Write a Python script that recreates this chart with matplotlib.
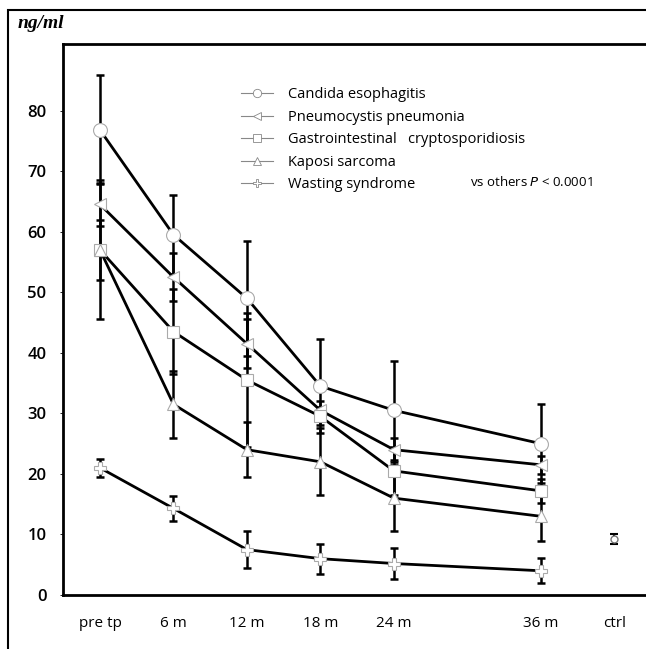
import matplotlib
matplotlib.use("Agg")
import matplotlib.pyplot as plt
from matplotlib.lines import Line2D
from matplotlib.patches import Rectangle

# time points (months); pre tp = 0, ctrl drawn at 42
months = [0, 6, 12, 18, 24, 36]
tick_pos = [0, 6, 12, 18, 24, 36, 42]
tick_labels = ["pre tp", "6 m", "12 m", "18 m", "24 m", "36 m", "ctrl"]

candida = [76.8, 59.5, 49.0, 34.5, 30.5, 25.0]
candida_err = [9.0, 6.5, 9.5, 7.7, 8.2, 6.5]

pneumo = [64.5, 52.5, 41.5, 30.5, 24.0, 21.5]
pneumo_err = [3.5, 4.0, 4.0, 1.5, 2.0, 1.5]

gastro = [57.0, 43.5, 35.5, 29.5, 20.5, 17.2]
gastro_err = [11.5, 7.0, 11.0, 1.5, 4.0, 2.0]

kaposi = [57.0, 31.5, 24.0, 22.0, 16.0, 13.0]
kaposi_err = [5.0, 5.5, 4.5, 5.5, 5.5, 4.0]

wasting = [21.0, 14.3, 7.5, 6.0, 5.2, 4.0]
wasting_err = [1.5, 2.0, 3.0, 2.5, 2.5, 2.1]

ctrl_x = 42
ctrl_val = 9.3
ctrl_err = 0.8

series = [
    ("Candida esophagitis", candida, candida_err, "o", 10),
    ("Pneumocystis pneumonia", pneumo, pneumo_err, "<", 8),
    ("Gastrointestinal   cryptosporidiosis", gastro, gastro_err, "s", 9),
    ("Kaposi sarcoma", kaposi, kaposi_err, "^", 8),
    ("Wasting syndrome", wasting, wasting_err, "P", 8),
]

plt.rcParams['font.family'] = ['Open Sans', 'DejaVu Sans']

fig = plt.figure(figsize=(6.46, 6.49), dpi=100)
ax = fig.add_axes([63 / 646, 1 - 595 / 649, 0.95, 551 / 649])

for name, vals, errs, mk, ms in series:
    ax.errorbar(months, vals, yerr=errs, fmt="none", ecolor="black",
                elinewidth=1.8, capsize=3, capthick=1.8, zorder=2)
    ax.plot(months, vals, color="black", lw=2, zorder=3)
    ax.plot(months, vals, ls="none", marker=mk, ms=ms, mfc="white",
            mec="#aaaaaa", mew=0.8, zorder=4)

ax.errorbar([ctrl_x], [ctrl_val], yerr=[ctrl_err], fmt="o", ms=5,
            mfc="white", mec="#777777", ecolor="black", elinewidth=1.5,
            capsize=3, capthick=1.5, zorder=4)

ax.set_xlim(-3.02, 47.1)
ax.set_ylim(0, 91)
ax.set_yticks(range(0, 81, 10))
ax.set_xticks(tick_pos)
ax.set_xticklabels(tick_labels, fontweight="medium")
ax.set_yticklabels([str(v) for v in range(0, 81, 10)], fontweight="semibold")
ax.tick_params(axis="x", length=0, pad=15, labelsize=11)
ax.tick_params(axis="y", length=2, width=0.6, pad=10, labelsize=12)
for s in ["left", "top", "bottom"]:
    ax.spines[s].set_linewidth(2)
ax.spines["right"].set_visible(False)

handles = [Line2D([], [], color="#888888", lw=0.8, marker=mk, ms=6,
                  mfc="white", mec="#888888", mew=0.6)
           for _, _, _, mk, _ in series]
labels = [s[0] for s in series]
fig.legend(handles, labels, loc="upper left", bbox_to_anchor=(228 / 646, 1 - 74 / 649),
           frameon=False, fontsize=10.5, handlelength=2.2, labelspacing=0.52,
           handletextpad=1.0)

fig.text(470 / 646, 1 - 182 / 649, r"vs others $\it{P}$ < 0.0001", fontsize=9.5,
         va="center", ha="left")

fig.text(18 / 646, 1 - 23 / 649, "ng/ml", fontsize=14, style="italic",
         fontweight="bold", family="Liberation Serif", va="center")

frame = Rectangle((8 / 646, -0.1), 1.2, 1 - 10 / 649 + 0.1, transform=fig.transFigure,
                  fill=False, lw=1.5, ec="black")
fig.patches.append(frame)

fig.savefig("out.png", dpi=100)
